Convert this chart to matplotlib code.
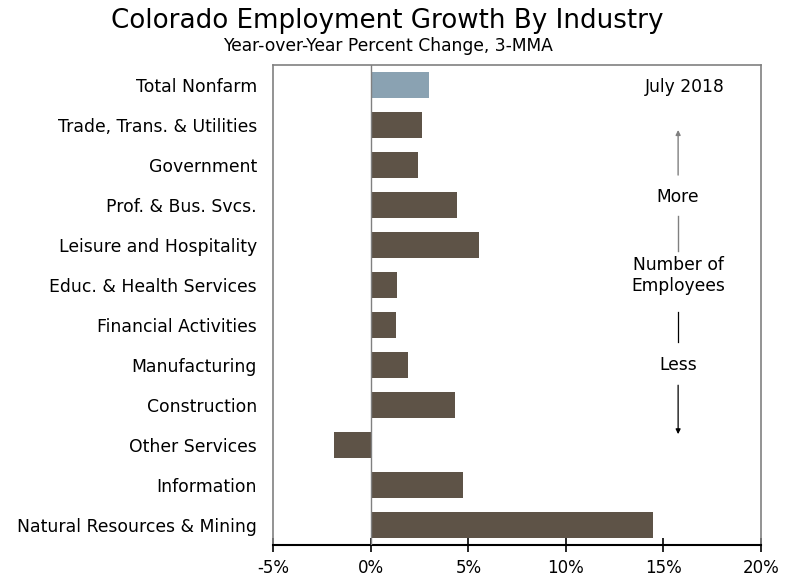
import matplotlib
matplotlib.use("Agg")
import matplotlib.pyplot as plt

industries = [
    "Total Nonfarm",
    "Trade, Trans. & Utilities",
    "Government",
    "Prof. & Bus. Svcs.",
    "Leisure and Hospitality",
    "Educ. & Health Services",
    "Financial Activities",
    "Manufacturing",
    "Construction",
    "Other Services",
    "Information",
    "Natural Resources & Mining",
]
growth = [3.0, 2.6, 2.4, 4.4, 5.55, 1.35, 1.3, 1.9, 4.3, -1.9, 4.75, 14.5]

x_ticks = [-5, 0, 5, 10, 15, 20]
x_tick_labels = ["-5%", "0%", "5%", "10%", "15%", "20%"]

brown = "#5e5347"
steel = "#8aa2b2"
frame = "#808080"

plt.rcParams["font.family"] = ["DejaVu Sans"]

fig = plt.figure(figsize=(7.88, 5.77), dpi=100)
ax = fig.add_axes([0.347, 0.0555, 0.6183, 0.8315])

pos = list(range(len(industries)))[::-1]
colors = [steel] + [brown] * (len(industries) - 1)
ax.barh(pos, growth, height=0.66, color=colors, zorder=2)
ax.axvline(0, color=frame, lw=1.0, zorder=3)

ax.set_xlim(-5, 20)
ax.set_ylim(-0.5, len(industries) - 0.5)
ax.set_yticks(pos)
ax.set_yticklabels(industries, fontsize=12.4)
ax.tick_params(axis="y", length=0, pad=12)
ax.set_xticks(x_ticks)
ax.set_xticklabels(x_tick_labels, fontsize=12)
ax.tick_params(axis="x", direction="inout", length=10, width=1.2, pad=5)

for side in ["left", "right", "top"]:
    ax.spines[side].set_color(frame)
    ax.spines[side].set_linewidth(1.2)
ax.spines["bottom"].set_color("black")
ax.spines["bottom"].set_linewidth(1.5)

fig.text(0.492, 0.964, "Colorado Employment Growth By Industry",
         ha="center", va="center", fontsize=18.8)
fig.text(0.492, 0.921, "Year-over-Year Percent Change, 3-MMA",
         ha="center", va="center", fontsize=12.3)

t = ax.transAxes
fs = 12.3
ax.text(0.845, 0.954, "July 2018", transform=t, ha="center", va="center", fontsize=fs)
ax.annotate("", xy=(0.8306, 0.865), xytext=(0.8306, 0.771), xycoords=t,
            arrowprops=dict(arrowstyle="-|>", color=frame, lw=1.0,
                            mutation_scale=7, shrinkA=0, shrinkB=0))
ax.text(0.8306, 0.725, "More", transform=t, ha="center", va="center", fontsize=fs)
ax.plot([0.8306, 0.8306], [0.685, 0.6125], transform=t, color=frame, lw=1.0)
ax.text(0.8306, 0.5625, "Number of\nEmployees", transform=t, ha="center",
        va="center", fontsize=fs, linespacing=1.2)
ax.plot([0.8306, 0.8306], [0.485, 0.423], transform=t, color="black", lw=0.9)
ax.text(0.8306, 0.375, "Less", transform=t, ha="center", va="center", fontsize=fs)
ax.annotate("", xy=(0.8306, 0.231), xytext=(0.8306, 0.333), xycoords=t,
            arrowprops=dict(arrowstyle="-|>", color="black", lw=0.9,
                            mutation_scale=7, shrinkA=0, shrinkB=0))

fig.savefig("out.png", dpi=100)
